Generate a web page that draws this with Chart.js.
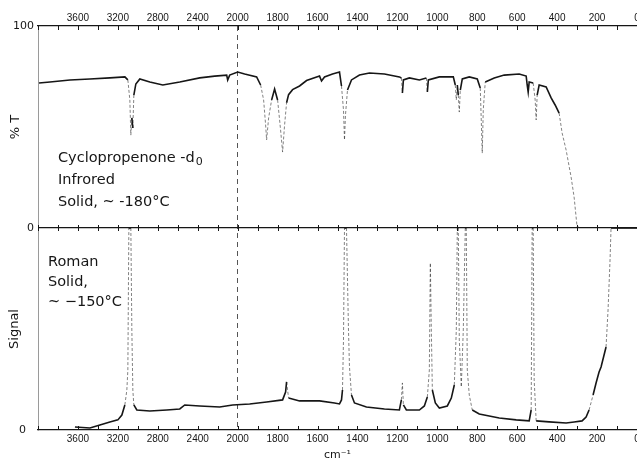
<!DOCTYPE html>
<html lang="en">
<head>
<meta charset="UTF-8" />
<title>Cyclopropenone-d0 infrared and Raman</title>
<style>
  body { margin: 0; background: #fff; }
  .chartContainer { width: 637px; height: 462px; }
</style>
<script src="https://cdn.jsdelivr.net/npm/chart.js"></script>
</head>
<body>
<div class="chartContainer"><canvas id="spectrumChart"></canvas></div>
<script>
  // infrared trace: wavenumber (cm-1) and % T
  const irWave = [3990, 3880, 3680, 3480, 3280, 3130, 3100, 3080, 3070, 3060, 3050, 3040, 3020, 2980,
    2880, 2750, 2580, 2380, 2230, 2110, 2100, 2080, 2000, 1965, 1905, 1885, 1870, 1860, 1855, 1845,
    1830, 1815, 1800, 1785, 1775, 1765, 1755, 1745, 1725, 1690, 1655, 1590, 1580, 1565, 1525, 1490,
    1480, 1470, 1465, 1460, 1450, 1430, 1390, 1340, 1265, 1190, 1180, 1175, 1170, 1140, 1090, 1055,
    1050, 1045, 990, 920, 910, 905, 900, 895, 890, 885, 875, 840, 800, 785, 780, 775, 770, 760, 715,
    665, 590, 555, 550, 545, 540, 520, 510, 505, 500, 490, 455, 430, 410, 390, 375, 355, 330, 315,
    300, 290, 0];
  const irTrans = [71.8, 72.3, 73.3, 73.8, 74.3, 74.8, 73.3, 63.4, 46, 54.5, 49.5, 65.8, 71.3, 73.8,
    72.3, 70.8, 72.3, 74.3, 75.2, 75.7, 73.3, 75.7, 77.2, 76.2, 74.8, 70.8, 63.4, 51, 43.6, 54.5,
    63.4, 68.8, 63.4, 48.5, 37.6, 51, 62, 66, 68.5, 70.3, 73, 75.2, 72.8, 74.8, 76.2, 77.2,
    70.3, 58.4, 43.6, 56, 68.3, 73.3, 75.7, 76.7, 76.2, 74.8, 74.3, 66.8, 73.3, 74.3, 73.3, 74.3,
    67.3, 73.3, 74.8, 74.8, 70.8, 63.4, 70.8, 65.8, 57.4, 68.3, 73.8, 74.8, 73.8, 69.3, 53.5, 37.1,
    58.4, 72.3, 74.3, 75.7, 76.2, 75.2, 70.8, 67.3, 72.3, 71.8, 63.4, 53.5, 65.8, 70.8, 69.8, 64.4,
    60.9, 56.9, 47, 38.6, 25.2, 15.3, 0.5, 0, 0];

  // raman trace: wavenumber and signal (panel is 0-100, strong lines run off the top)
  const ramanWave = [3630, 3480, 3380, 3280, 3200, 3160, 3130, 3110, 3100, 3090, 3070, 3060, 3050,
    3040, 3010, 2880, 2710, 2580, 2530, 2380, 2180, 2050, 1940, 1855, 1775, 1760, 1755, 1745, 1690,
    1590, 1515, 1490, 1480, 1475, 1470, 1465, 1455, 1445, 1440, 1430, 1415, 1355, 1265, 1190, 1180,
    1175, 1170, 1155, 1090, 1065, 1050, 1040, 1035, 1030, 1025, 1010, 990, 950, 930, 915, 905, 900,
    895, 890, 880, 870, 860, 855, 850, 840, 825, 790, 690, 605, 540, 530, 525, 520, 515, 505, 440,
    355, 315, 275, 255, 240, 220, 205, 190, 180, 165, 155, 145, 135, 130, 0];
  const ramanSignal = [1.5, 1, 2.5, 4, 5, 7.4, 12.4, 19.8, 29.7, 100, 100, 49.5, 19.8,
    12.4, 9.9, 9.4, 9.9, 10.4, 12.4, 11.9, 11.4, 12.4, 12.9, 13.9, 14.9, 18.8, 23.8, 15.8, 14.4,
    14.4, 13.4, 12.9, 14.9, 19.8, 44.6, 100, 100, 49.5, 31.2, 17.3, 13.4, 11.4, 10.4, 9.9, 14.9,
    23.3, 12.4, 9.9, 9.9, 11.9, 16.3, 29.7, 82.7, 49.5, 19.8, 13.4, 10.9, 11.9, 15.8, 22.3, 49.5, 100,
    100, 44.6, 21.3, 49.5, 100, 100, 29.7, 17.3, 9.9, 7.9, 5.9, 5, 4.5, 9.9, 100, 100, 24.8, 4.5, 4,
    3.5, 4, 4.5, 6.4, 9.9, 17.3, 23.3, 28.7, 31.2, 37.1, 41.1, 59.4, 84.2, 100, 100];

  // above 2000 cm-1 the chart paper runs at half scale
  function toAxis(cm) { return cm <= 2000 ? cm : 2000 + (cm - 2000) / 2; }
  function toWave(u) { return u <= 2000 ? u : 2000 + (u - 2000) * 2; }

  function waveLabel(v) {
    if (v % 200 !== 0) return "";
    const cm = toWave(v);
    return cm === 4000 ? "" : String(cm);
  }

  const ink = "#161616";

  // steep parts of the trace came out faint and broken on the scan
  const steepSegment = {
    borderColor: (ctx) => isSteep(ctx) ? "rgba(30,30,30,0.55)" : undefined,
    borderWidth: (ctx) => isSteep(ctx) ? 1 : undefined,
    borderDash: (ctx) => isSteep(ctx) ? [3, 2] : undefined,
  };
  function isSteep(ctx) {
    const dy = Math.abs(ctx.p1.y - ctx.p0.y);
    const dx = Math.abs(ctx.p1.x - ctx.p0.x);
    return dy > 14 && dy > dx * 3;
  }

  const insideTicks = {
    id: "insideTicks",
    afterDraw(chart) {
      const { ctx, chartArea } = chart;
      const xs = chart.scales.x;
      const mid = chart.scales.yIR.bottom;
      ctx.save();
      ctx.strokeStyle = ink;
      ctx.lineWidth = 1;
      ctx.beginPath();
      xs.ticks.forEach((t) => {
        const px = Math.round(xs.getPixelForValue(t.value)) + 0.5;
        ctx.moveTo(px, chartArea.top);
        ctx.lineTo(px, chartArea.top + 4);
        ctx.moveTo(px, mid - 3);
        ctx.lineTo(px, mid + 3);
        ctx.moveTo(px, chartArea.bottom - 4);
        ctx.lineTo(px, chartArea.bottom);
      });
      ctx.stroke();
      ctx.restore();
    },
  };

  const panelLabels = {
    id: "panelLabels",
    afterDraw(chart) {
      const { ctx, chartArea } = chart;
      const yIR = chart.scales.yIR;
      const yR = chart.scales.yR;
      ctx.save();
      ctx.fillStyle = ink;
      ctx.textBaseline = "middle";
      ctx.font = '14.5px "DejaVu Sans"';
      const x1 = chartArea.left + 20;
      ctx.fillText("Cyclopropenone -d", x1, yIR.getPixelForValue(34.7));
      const w = ctx.measureText("Cyclopropenone -d").width;
      ctx.font = '11px "DejaVu Sans"';
      ctx.fillText("0", x1 + w + 1, yIR.getPixelForValue(34.7) + 4);
      ctx.font = '14.5px "DejaVu Sans"';
      ctx.fillText("Infrored", x1, yIR.getPixelForValue(23.8));
      ctx.fillText("Solid, ~ -180°C", x1, yIR.getPixelForValue(12.9));
      const x2 = chartArea.left + 10;
      ctx.fillText("Roman", x2, yR.getPixelForValue(83));
      ctx.fillText("Solid,", x2, yR.getPixelForValue(73.3));
      ctx.fillText("~ \u2212150°C", x2, yR.getPixelForValue(63.4));
      ctx.restore();
    },
  };

  const tickFont = { family: "Liberation Sans", size: 10 };
  const yFont = { family: "DejaVu Sans", size: 11 };
  const titleFont = { family: "DejaVu Sans", size: 13 };

  function xAxis(position, extra) {
    return Object.assign({
      type: "linear",
      position: position,
      reverse: true,
      min: 0,
      max: 3000,
      ticks: { stepSize: 100, autoSkip: false, maxRotation: 0, padding: 2, color: ink, font: tickFont, callback: waveLabel },
      grid: { display: false, drawTicks: false },
      border: { display: true, color: ink, width: 1.2 },
    }, extra);
  }

  const ctx = document.getElementById("spectrumChart").getContext("2d");
  const spectrumChart = new Chart(ctx, {
    type: "line",
    data: {
      datasets: [
        {
          label: "Infrared",
          data: irWave.map((w, i) => ({ x: toAxis(w), y: irTrans[i] })),
          xAxisID: "x",
          yAxisID: "yIR",
          borderColor: ink,
          borderWidth: 1.6,
          segment: steepSegment,
        },
        {
          label: "Raman",
          data: ramanWave.map((w, i) => ({ x: toAxis(w), y: ramanSignal[i] })),
          xAxisID: "x",
          yAxisID: "yR",
          borderColor: ink,
          borderWidth: 1.6,
          segment: steepSegment,
        },
      ],
    },
    options: {
      responsive: true,
      maintainAspectRatio: false,
      animation: false,
      layout: { padding: 0 },
      elements: { point: { radius: 0 }, line: { tension: 0 } },
      plugins: { legend: { display: false }, tooltip: { enabled: false } },
      scales: {
        x: xAxis("bottom", {
          ticks: { stepSize: 100, autoSkip: false, maxRotation: 0, padding: 3, color: ink, font: tickFont, callback: waveLabel },
          grid: {
            display: true,
            drawTicks: false,
            color: (c) => (c.tick && c.tick.value === 2000 ? "#555" : "transparent"),
            lineWidth: 1,
          },
          border: { display: true, color: ink, width: 1.2, dash: [5, 4] },
          title: { display: true, text: "cm\u207B\u00B9", color: ink, font: { family: "DejaVu Sans", size: 11 }, padding: 0 },
          afterFit: (s) => { s.height = 32; s.paddingLeft = 0; s.paddingRight = 0; },
        }),
        xTop: xAxis("top", {
          afterFit: (s) => { s.height = 26; s.paddingLeft = 0; s.paddingRight = 0; },
        }),
        yIR: {
          type: "linear",
          position: "left",
          stack: "panels",
          stackWeight: 1,
          weight: 1,
          min: 0,
          max: 100,
          ticks: { stepSize: 100, padding: 4, color: ink, font: yFont },
          grid: { drawTicks: false, color: (c) => (c.tick && c.tick.value === 0 ? ink : "transparent"), lineWidth: 1.2 },
          border: { display: true, color: "#9a9a9a", width: 1 },
          title: { display: true, text: "% T", color: ink, font: titleFont, padding: { top: 8, bottom: 0 } },
          afterFit: (s) => { s.width = 38; },
        },
        yR: {
          type: "linear",
          position: "left",
          stack: "panels",
          stackWeight: 1,
          weight: 0,
          min: 0,
          max: 100,
          ticks: { stepSize: 100, padding: 4, color: ink, font: yFont, callback: (v) => (v === 0 ? "0" : "") },
          grid: { display: false },
          border: { display: true, color: "#9a9a9a", width: 1 },
          title: { display: true, text: "Signal", color: ink, font: titleFont, padding: { top: 7, bottom: 0 } },
          afterFit: (s) => { s.width = 38; },
        },
      },
    },
    plugins: [insideTicks, panelLabels],
  });
</script>
</body>
</html>
